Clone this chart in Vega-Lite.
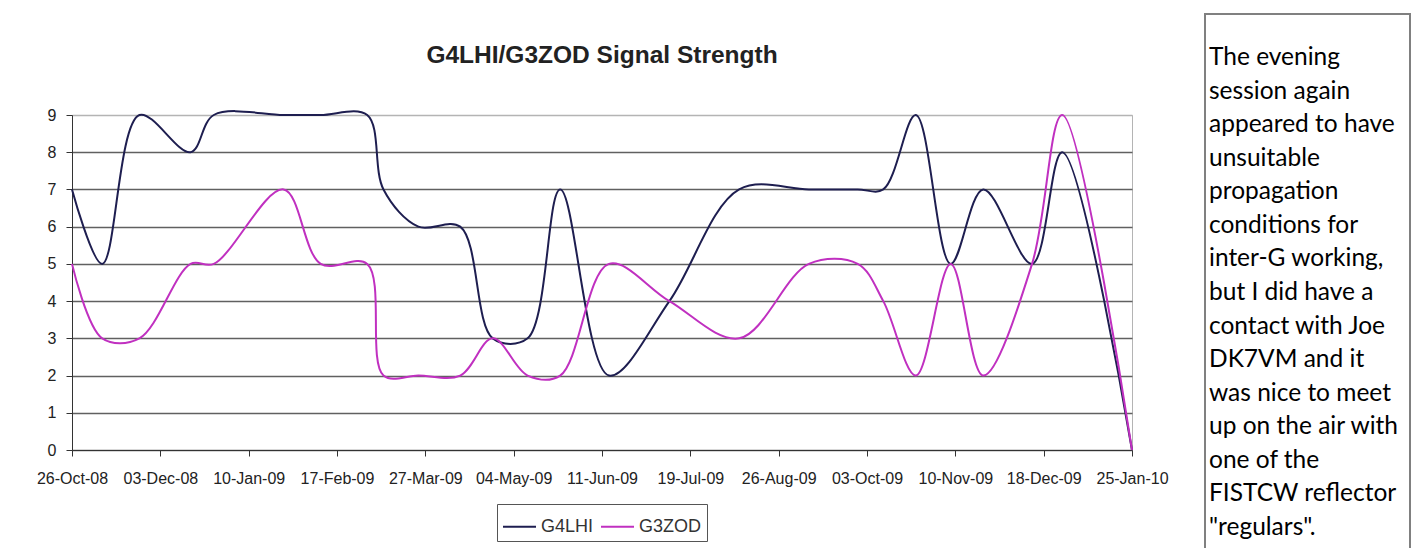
{
  "$schema": "https://vega.github.io/schema/vega-lite/v6.json",
  "background": "white",
  "padding": {"left": 35, "top": 13, "right": 0, "bottom": 0},
  "config": {"view": {"stroke": null}, "font": "Liberation Sans"},
  "spacing": 35,
  "center": true,
  "resolve": {"legend": {"color": "independent"}},
  "hconcat": [
    {
      "width": 1060,
      "height": 335,
      "title": {
        "text": "G4LHI/G3ZOD Signal Strength",
        "fontSize": 24.5,
        "fontWeight": "bold",
        "offset": 39,
        "color": "#222222",
        "anchor": "middle",
        "font": "Liberation Sans"
      },
      "view": {"stroke": "#b4b4b4", "strokeWidth": 1},
      "data": {
        "values": [
          {"date": "2008-10-26", "series": "G4LHI", "value": 7},
          {"date": "2008-11-08", "series": "G4LHI", "value": 5},
          {"date": "2008-11-24", "series": "G4LHI", "value": 9},
          {"date": "2008-12-16", "series": "G4LHI", "value": 8},
          {"date": "2008-12-26", "series": "G4LHI", "value": 9},
          {"date": "2009-01-25", "series": "G4LHI", "value": 9},
          {"date": "2009-02-10", "series": "G4LHI", "value": 9},
          {"date": "2009-03-02", "series": "G4LHI", "value": 9},
          {"date": "2009-03-09", "series": "G4LHI", "value": 7},
          {"date": "2009-03-24", "series": "G4LHI", "value": 6},
          {"date": "2009-04-11", "series": "G4LHI", "value": 6},
          {"date": "2009-04-25", "series": "G4LHI", "value": 3},
          {"date": "2009-05-10", "series": "G4LHI", "value": 3},
          {"date": "2009-05-24", "series": "G4LHI", "value": 7},
          {"date": "2009-06-14", "series": "G4LHI", "value": 2},
          {"date": "2009-07-10", "series": "G4LHI", "value": 4},
          {"date": "2009-08-09", "series": "G4LHI", "value": 7},
          {"date": "2009-09-08", "series": "G4LHI", "value": 7},
          {"date": "2009-09-29", "series": "G4LHI", "value": 7},
          {"date": "2009-10-10", "series": "G4LHI", "value": 7},
          {"date": "2009-10-24", "series": "G4LHI", "value": 9},
          {"date": "2009-11-08", "series": "G4LHI", "value": 5},
          {"date": "2009-11-22", "series": "G4LHI", "value": 7},
          {"date": "2009-12-13", "series": "G4LHI", "value": 5},
          {"date": "2009-12-26", "series": "G4LHI", "value": 8},
          {"date": "2010-01-25", "series": "G4LHI", "value": 0},
          {"date": "2008-10-26", "series": "G3ZOD", "value": 5},
          {"date": "2008-11-08", "series": "G3ZOD", "value": 3},
          {"date": "2008-11-24", "series": "G3ZOD", "value": 3},
          {"date": "2008-12-16", "series": "G3ZOD", "value": 5},
          {"date": "2008-12-26", "series": "G3ZOD", "value": 5},
          {"date": "2009-01-25", "series": "G3ZOD", "value": 7},
          {"date": "2009-02-10", "series": "G3ZOD", "value": 5},
          {"date": "2009-03-02", "series": "G3ZOD", "value": 5},
          {"date": "2009-03-09", "series": "G3ZOD", "value": 2},
          {"date": "2009-03-24", "series": "G3ZOD", "value": 2},
          {"date": "2009-04-11", "series": "G3ZOD", "value": 2},
          {"date": "2009-04-25", "series": "G3ZOD", "value": 3},
          {"date": "2009-05-10", "series": "G3ZOD", "value": 2},
          {"date": "2009-05-24", "series": "G3ZOD", "value": 2},
          {"date": "2009-06-14", "series": "G3ZOD", "value": 5},
          {"date": "2009-07-10", "series": "G3ZOD", "value": 4},
          {"date": "2009-08-09", "series": "G3ZOD", "value": 3},
          {"date": "2009-09-08", "series": "G3ZOD", "value": 5},
          {"date": "2009-09-29", "series": "G3ZOD", "value": 5},
          {"date": "2009-10-10", "series": "G3ZOD", "value": 4},
          {"date": "2009-10-24", "series": "G3ZOD", "value": 2},
          {"date": "2009-11-08", "series": "G3ZOD", "value": 5},
          {"date": "2009-11-22", "series": "G3ZOD", "value": 2},
          {"date": "2009-12-13", "series": "G3ZOD", "value": 5},
          {"date": "2009-12-26", "series": "G3ZOD", "value": 9},
          {"date": "2010-01-25", "series": "G3ZOD", "value": 0}
        ]
      },
      "mark": {"type": "line", "interpolate": "catmull-rom", "strokeWidth": 2},
      "encoding": {
        "x": {
          "field": "date",
          "type": "temporal",
          "scale": {
            "type": "utc",
            "domain": [
              {"year": 2008, "month": 10, "date": 26, "utc": true},
              {"year": 2010, "month": 1, "date": 25, "utc": true}
            ]
          },
          "axis": {
            "values": [
              {"year": 2008, "month": 10, "date": 26, "utc": true},
              {"year": 2008, "month": 12, "date": 3, "utc": true},
              {"year": 2009, "month": 1, "date": 10, "utc": true},
              {"year": 2009, "month": 2, "date": 17, "utc": true},
              {"year": 2009, "month": 3, "date": 27, "utc": true},
              {"year": 2009, "month": 5, "date": 4, "utc": true},
              {"year": 2009, "month": 6, "date": 11, "utc": true},
              {"year": 2009, "month": 7, "date": 19, "utc": true},
              {"year": 2009, "month": 8, "date": 26, "utc": true},
              {"year": 2009, "month": 10, "date": 3, "utc": true},
              {"year": 2009, "month": 11, "date": 10, "utc": true},
              {"year": 2009, "month": 12, "date": 18, "utc": true},
              {"year": 2010, "month": 1, "date": 25, "utc": true}
            ],
            "format": "%d-%b-%y",
            "labelFlush": false,
            "labelOverlap": false,
            "labelAngle": 0,
            "labelFontSize": 16,
            "labelColor": "#222222",
            "labelPadding": 14,
            "tickSize": 6,
            "tickColor": "#333333",
            "domainColor": "#333333",
            "grid": false,
            "title": null
          }
        },
        "y": {
          "field": "value",
          "type": "quantitative",
          "scale": {"domain": [0, 9], "nice": false},
          "axis": {
            "values": [0, 1, 2, 3, 4, 5, 6, 7, 8, 9],
            "grid": true,
            "gridColor": {"condition": {"test": "datum.value === 9", "value": "#b4b4b4"}, "value": "#606060"},
            "gridWidth": 1.3,
            "tickSize": 6,
            "tickColor": "#333333",
            "domainColor": "#333333",
            "labelFontSize": 16,
            "labelColor": "#222222",
            "labelPadding": 10,
            "title": null
          }
        },
        "color": {
          "field": "series",
          "type": "nominal",
          "scale": {"domain": ["G4LHI", "G3ZOD"], "range": ["#1e1e50", "#c030c0"]},
          "legend": {
            "title": null,
            "orient": "none",
            "legendX": 425,
            "legendY": 389,
            "direction": "horizontal",
            "symbolType": "stroke",
            "symbolSize": 1089,
            "symbolStrokeWidth": 2,
            "labelFontSize": 18,
            "labelColor": "#333333",
            "strokeColor": "#555555",
            "padding": 5,
            "columnPadding": 3,
            "labelOffset": 4
          }
        }
      }
    },
    {
      "width": 205,
      "height": 628,
      "view": {"stroke": "#808080", "strokeWidth": 2},
      "data": {
        "values": [
          {"line": 1, "text": "The evening"},
          {"line": 2, "text": "session again"},
          {"line": 3, "text": "appeared to have"},
          {"line": 4, "text": "unsuitable"},
          {"line": 5, "text": "propagation"},
          {"line": 6, "text": "conditions for"},
          {"line": 7, "text": "inter-G working,"},
          {"line": 8, "text": "but I did have a"},
          {"line": 9, "text": "contact with Joe"},
          {"line": 10, "text": "DK7VM and it"},
          {"line": 11, "text": "was nice to meet"},
          {"line": 12, "text": "up on the air with"},
          {"line": 13, "text": "one of the"},
          {"line": 14, "text": "FISTCW reflector"},
          {"line": 15, "text": "\"regulars\"."}
        ]
      },
      "mark": {"type": "text", "align": "left", "baseline": "middle", "font": "Lato", "fontSize": 24.5, "color": "#000000", "dx": 4},
      "encoding": {
        "x": {"datum": 0, "type": "quantitative", "scale": {"domain": [0, 1]}, "axis": null},
        "y": {"field": "line", "type": "quantitative", "scale": {"domain": [-0.311, 18.397], "reverse": true, "nice": false, "zero": false}, "axis": null},
        "text": {"field": "text"}
      }
    }
  ]
}
